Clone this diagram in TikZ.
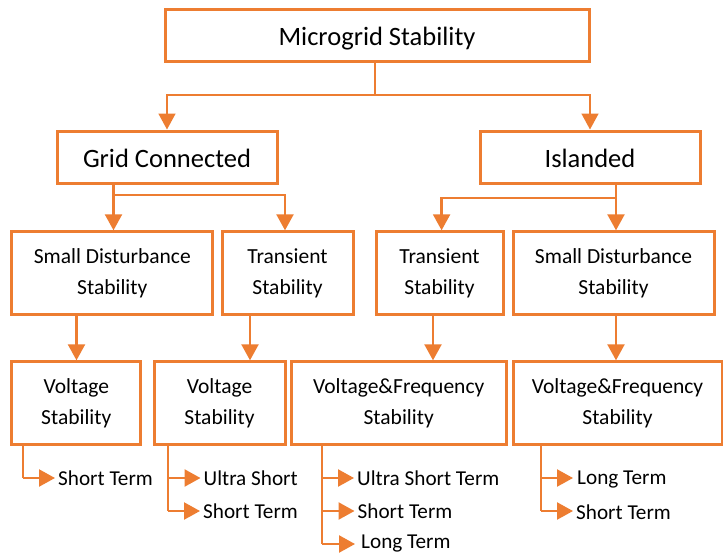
\documentclass[tikz,border=0pt]{standalone}
\usepackage{fontspec}
\setmainfont{Carlito}
\usetikzlibrary{arrows.meta}
\definecolor{org}{HTML}{ED7D31}
\begin{document}
\begin{tikzpicture}[x=1pt,y=-1pt,
  box/.style={draw=org,line width=3pt,inner sep=0pt,align=center,text=black},
  hbox/.style={box,font=\fontsize{26.5}{30}\selectfont,text height=25pt,text depth=3.6pt},
  sbox/.style={box,font=\fontsize{21.5}{30.5}\selectfont},
  conn/.style={draw=org,line width=2.3pt},
  thin/.style={draw=org,line width=1.6pt},
  arr/.style={-{Triangle[width=17pt,length=16pt]}},
  leaf/.style={anchor=west,inner sep=0pt,font=\fontsize{21.2}{24}\selectfont}]
\useasboundingbox[fill=white] (0,0) rectangle (723,555);
% boxes
\node[hbox,minimum width=424pt,minimum height=52pt] (top) at (377,35) {Microgrid Stability};
\node[hbox,minimum width=220pt,minimum height=52pt] (gc) at (167,157) {Grid Connected};
\node[hbox,minimum width=220pt,minimum height=52pt] (isl) at (590,157) {Islanded};
\node[sbox,minimum width=201pt,minimum height=83pt] (sds1) at (112.3,273.3) {Small Disturbance\\Stability};
\node[sbox,minimum width=131pt,minimum height=83pt] (tr1) at (287.5,273.3) {Transient\\Stability};
\node[sbox,minimum width=127pt,minimum height=83pt] (tr2) at (439.5,273.3) {Transient\\Stability};
\node[sbox,minimum width=201pt,minimum height=83pt] (sds2) at (613.5,273.3) {Small Disturbance\\Stability};
\node[sbox,minimum width=129pt,minimum height=83pt] (vs1) at (76.3,403.3) {Voltage\\Stability};
\node[sbox,minimum width=131pt,minimum height=83pt] (vs2) at (219.5,403.3) {Voltage\\Stability};
\node[sbox,minimum width=215pt,minimum height=83pt] (vfs1) at (398.7,403.3) {Voltage\&Frequency\\Stability};
\node[sbox,minimum width=209pt,minimum height=83pt] (vfs2) at (617.5,403.3) {Voltage\&Frequency\\Stability};
% level 1
\coordinate (tj) at (375,95);
\draw[thin] (top.south -| tj) -- (tj);
\draw[thin,arr] (tj) -| (gc.north);
\draw[thin,arr] (tj) -| (isl.north);
% level 2
\coordinate (gj) at (113.5,195);
\draw[conn] (gc.south -| gj) -- (gj);
\draw[conn,arr] (gj) -- (sds1.north -| gj);
\draw[conn,arr] (gj) -| ([xshift=-2.5pt]tr1.north);
\coordinate (ij) at (616,197.7);
\draw[conn] (isl.south -| ij) -- (ij);
\draw[conn,arr] (ij) -- (sds2.north -| ij);
\draw[conn,arr] (ij) -| (tr2.north -| 441.6,0);
% level 3
\draw[conn,arr] (sds1.south -| 76.5,0) -- (vs1.north -| 76.5,0);
\draw[conn,arr] (tr1.south -| 250,0) -- (vs2.north -| 250,0);
\draw[conn,arr] (tr2.south -| 433,0) -- (vfs1.north -| 433,0);
\draw[conn,arr] (sds2.south -| 616,0) -- (vfs2.north -| 616,0);
% leaves
\node[leaf] (l1a) at (58,478) {Short Term};
\node[leaf] (l2a) at (203.5,478) {Ultra Short};
\node[leaf] (l2b) at (203,511) {Short Term};
\node[leaf] (l3a) at (357,478) {Ultra Short Term};
\node[leaf] (l3b) at (357.5,511) {Short Term};
\node[leaf] (l3c) at (361,544) {Long Term};
\node[leaf] (l4a) at (577,480) {Long Term};
\node[leaf] (l4b) at (576,512) {Short Term};
\coordinate (c1) at (23,478);
\draw[conn] (vs1.south -| c1) -- (c1);
\draw[conn,arr] (c1) -- ([xshift=-3pt]l1a.west);
\coordinate (c2) at (168,511);
\draw[conn] (vs2.south -| c2) -- (c2);
\draw[conn,arr] (c2 |- l2a.west) -- ([xshift=-3pt]l2a.west);
\draw[conn,arr] (c2) -- ([xshift=-3pt]l2b.west);
\coordinate (c3) at (322,544);
\draw[conn] (vfs1.south -| c3) -- (c3);
\draw[conn,arr] (c3 |- l3a.west) -- ([xshift=-3pt]l3a.west);
\draw[conn,arr] (c3 |- l3b.west) -- ([xshift=-3pt]l3b.west);
\draw[conn,arr] (c3) -- ([xshift=-6pt]l3c.west);
\coordinate (c4) at (541,511);
\draw[conn] (vfs2.south -| c4) -- (c4);
\draw[conn,arr] (c4 |- 0,478) -- ([xshift=-4pt]l4a.west |- 0,478);
\draw[conn,arr] (c4) -- ([xshift=-3pt]l4b.west |- 0,511);
\end{tikzpicture}
\end{document}
